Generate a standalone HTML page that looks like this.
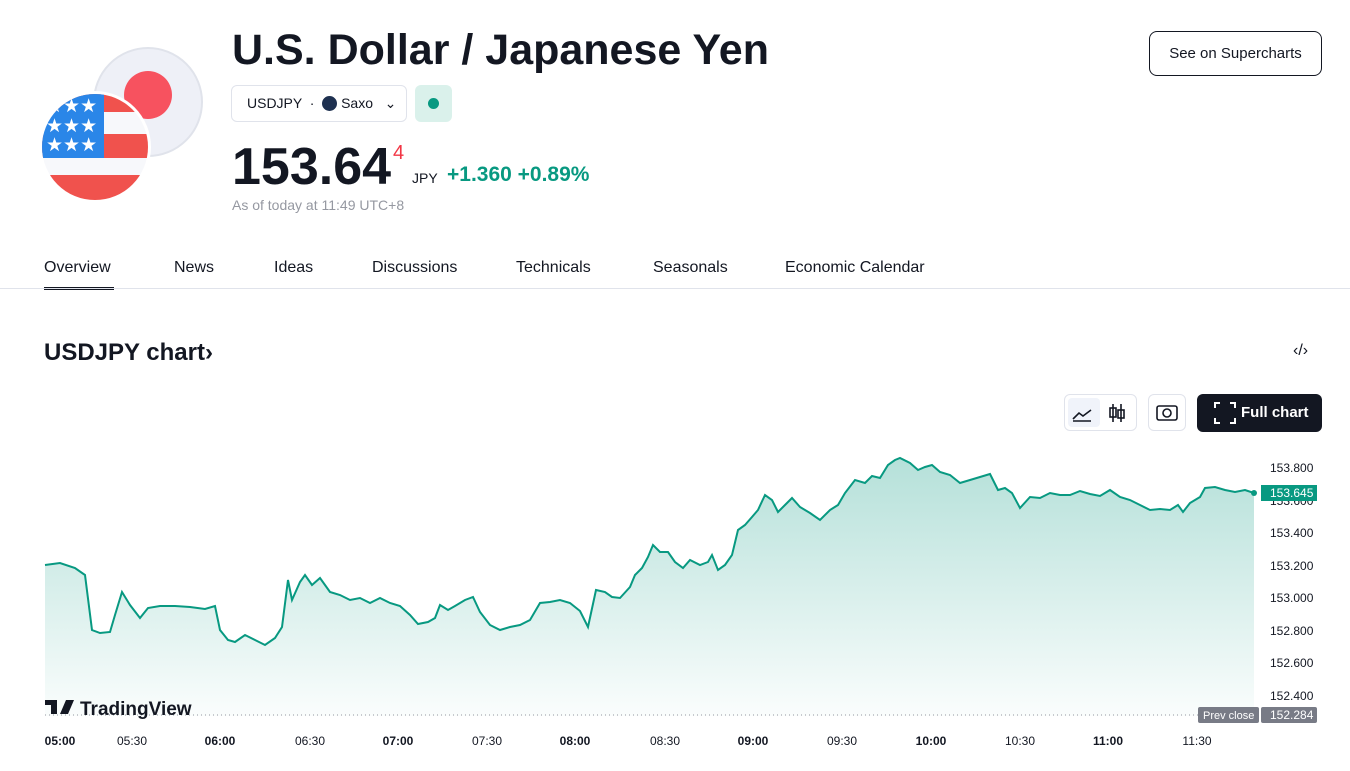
<!DOCTYPE html>
<html><head><meta charset="utf-8"><style>
body{margin:0;width:1350px;height:771px;background:#fff;font-family:"Liberation Sans",sans-serif;color:#131722;position:relative;overflow:hidden}
.a{position:absolute;white-space:nowrap}
</style></head><body>
<svg class="a" style="left:40px;top:40px" width="165" height="165">
<circle cx="108" cy="62" r="54" fill="#eef0f7" stroke="#e0e3eb" stroke-width="2"/>
<circle cx="108" cy="55" r="24" fill="#f7525f"/>
<clipPath id="c"><circle cx="55" cy="107" r="53"/></clipPath>
<circle cx="55" cy="107" r="56" fill="#fff"/>
<g clip-path="url(#c)"><rect x="0" y="50" width="120" height="110" fill="#f7f8fb"/>
<rect x="0" y="50" width="120" height="22" fill="#f0524d"/><rect x="0" y="94" width="120" height="24" fill="#f0524d"/><rect x="0" y="135" width="120" height="30" fill="#f0524d"/>
<rect x="0" y="50" width="64" height="68" fill="#2a86e8"/>
<text x="6" y="72" fill="#fff" font-size="19">★★★</text><text x="6" y="92" fill="#fff" font-size="19">★★★</text><text x="6" y="111" fill="#fff" font-size="19">★★★</text></g>
</svg>
<div class="a" style="left:232px;top:26px;font-size:43px;font-weight:bold">U.S. Dollar / Japanese Yen</div>
<div class="a" style="left:231px;top:85px;width:176px;height:37px;border:1px solid #e0e3eb;border-radius:6px;font-size:14px;line-height:35px;padding-left:15px;box-sizing:border-box">USDJPY &nbsp;· &nbsp;<span style="display:inline-block;width:15px;height:15px;border-radius:50%;background:#1e3050;vertical-align:-3px"></span> Saxo &nbsp; ⌄</div>
<div class="a" style="left:415px;top:85px;width:37px;height:37px;border-radius:6px;background:#daf1eb"><div style="margin:13px;width:11px;height:11px;border-radius:50%;background:#089981"></div></div>
<div class="a" style="left:232px;top:137px;font-size:52px;font-weight:bold">153.64</div>
<div class="a" style="left:393px;top:142px;font-size:20px;color:#f23645">4</div>
<div class="a" style="left:412px;top:170px;font-size:14px">JPY</div>
<div class="a" style="left:447px;top:163px;font-size:21px;color:#089981;font-weight:bold">+1.360 +0.89%</div>
<div class="a" style="left:232px;top:197px;font-size:14px;color:#9598a1">As of today at 11:49 UTC+8</div>
<div class="a" style="left:1149px;top:31px;width:173px;height:45px;border:1px solid #131722;border-radius:8px;box-sizing:border-box;font-size:15px;text-align:center;line-height:43px">See on Supercharts</div>
<div class="a" style="left:44px;top:259px;font-size:16px">Overview</div>
<div class="a" style="left:44px;top:287px;width:70px;height:3px;background:#131722"></div>
<div class="a" style="left:174px;top:259px;font-size:16px">News</div>
<div class="a" style="left:274px;top:259px;font-size:16px">Ideas</div>
<div class="a" style="left:372px;top:259px;font-size:16px">Discussions</div>
<div class="a" style="left:516px;top:259px;font-size:16px">Technicals</div>
<div class="a" style="left:653px;top:259px;font-size:16px">Seasonals</div>
<div class="a" style="left:785px;top:259px;font-size:16px">Economic Calendar</div>
<div class="a" style="left:0;top:288px;width:1350px;height:1px;background:#e0e3eb"></div>
<div class="a" style="left:44px;top:339px;font-size:24px;font-weight:bold">USDJPY chart›</div>
<div class="a" style="left:1293px;top:342px;font-size:16px">‹/›</div>
<div class="a" style="left:1064px;top:394px;width:73px;height:37px;border:1px solid #e0e3eb;border-radius:6px;box-sizing:border-box"><div style="margin:3px;width:32px;height:29px;background:#f0f3fa;border-radius:4px"></div></div>
<div class="a" style="left:1148px;top:394px;width:38px;height:37px;border:1px solid #e0e3eb;border-radius:6px;box-sizing:border-box"></div>
<div class="a" style="left:1197px;top:394px;width:125px;height:38px;background:#131722;border-radius:6px;color:#fff;font-size:15px;font-weight:bold;line-height:38px;padding-left:44px;box-sizing:border-box">Full chart</div>
<svg class="a" style="left:0;top:0" width="1350" height="771">
<defs><linearGradient id="g" x1="0" y1="0" x2="0" y2="1"><stop offset="0" stop-color="#089981" stop-opacity=".3"/><stop offset="1" stop-color="#089981" stop-opacity="0.02"/></linearGradient></defs>
<g fill="none" stroke="#131722" stroke-width="1.6"><path d="M1073 419l6-6 4 3 8-6M1073 421h18"/><path d="M1113 404v18M1121 404v18"/><rect x="1110" y="408" width="6" height="9"/><rect x="1118" y="410" width="6" height="8"/><rect x="1157" y="406" width="20" height="14" rx="2"/><circle cx="1167" cy="413" r="4"/></g>
<g fill="none" stroke="#fff" stroke-width="2"><path d="M1215 408v-5h5M1230 403h5v5M1235 418v5h-5M1220 423h-5v-5"/></g>
<polyline points="45,565 60,563 75,568 85,575 92,630 100,633 110,632 115,615 122,592 130,605 140,618 148,608 160,606 175,606 190,607 205,609 215,606 220,630 228,640 235,642 245,635 255,640 265,645 275,638 282,627 288,580 292,600 300,582 305,575 312,585 320,578 330,592 340,595 350,600 360,598 370,603 380,598 390,603 400,606 410,615 418,624 428,622 435,618 440,605 448,610 455,606 465,600 473,597 480,612 490,625 500,630 510,627 520,625 530,620 540,603 550,602 560,600 570,603 580,611 588,627 596,590 605,592 612,597 620,598 630,587 635,575 642,568 648,557 653,545 660,552 668,552 675,562 683,568 690,560 700,565 708,562 712,555 718,570 725,565 732,555 738,530 745,525 752,517 758,510 765,495 772,500 778,512 785,505 792,498 800,507 810,513 820,520 830,510 838,505 845,493 855,480 865,483 872,476 880,478 888,465 895,460 900,458 910,463 918,470 925,467 932,465 940,472 950,475 960,483 970,480 980,477 990,474 998,490 1005,488 1012,493 1020,508 1030,497 1040,498 1050,493 1060,495 1070,495 1080,491 1090,494 1100,496 1110,490 1120,497 1130,500 1140,505 1150,510 1160,509 1170,510 1178,505 1183,512 1190,503 1200,497 1205,488 1215,487 1225,490 1235,492 1245,490 1254,493" fill="none" stroke="#089981" stroke-width="2"/>
<polygon points="45,565 60,563 75,568 85,575 92,630 100,633 110,632 115,615 122,592 130,605 140,618 148,608 160,606 175,606 190,607 205,609 215,606 220,630 228,640 235,642 245,635 255,640 265,645 275,638 282,627 288,580 292,600 300,582 305,575 312,585 320,578 330,592 340,595 350,600 360,598 370,603 380,598 390,603 400,606 410,615 418,624 428,622 435,618 440,605 448,610 455,606 465,600 473,597 480,612 490,625 500,630 510,627 520,625 530,620 540,603 550,602 560,600 570,603 580,611 588,627 596,590 605,592 612,597 620,598 630,587 635,575 642,568 648,557 653,545 660,552 668,552 675,562 683,568 690,560 700,565 708,562 712,555 718,570 725,565 732,555 738,530 745,525 752,517 758,510 765,495 772,500 778,512 785,505 792,498 800,507 810,513 820,520 830,510 838,505 845,493 855,480 865,483 872,476 880,478 888,465 895,460 900,458 910,463 918,470 925,467 932,465 940,472 950,475 960,483 970,480 980,477 990,474 998,490 1005,488 1012,493 1020,508 1030,497 1040,498 1050,493 1060,495 1070,495 1080,491 1090,494 1100,496 1110,490 1120,497 1130,500 1140,505 1150,510 1160,509 1170,510 1178,505 1183,512 1190,503 1200,497 1205,488 1215,487 1225,490 1235,492 1245,490 1254,493 1254,716 45,716" fill="url(#g)"/>
<circle cx="1254" cy="493" r="3" fill="#089981"/>
<line x1="45" y1="715" x2="1198" y2="715" stroke="#9598a1" stroke-dasharray="1 3"/>
<g font-size="12" fill="#131722">
<text x="1270" y="472">153.800</text><text x="1270" y="505">153.600</text><text x="1270" y="537">153.400</text><text x="1270" y="570">153.200</text><text x="1270" y="602">153.000</text><text x="1270" y="635">152.800</text><text x="1270" y="667">152.600</text><text x="1270" y="700">152.400</text>
</g>
<rect x="1261" y="485" width="56" height="16" fill="#089981"/><text x="1270" y="497" font-size="12" fill="#fff">153.645</text>
<rect x="1198" y="707" width="61" height="16" rx="2" fill="#787b86"/><text x="1203" y="719" font-size="11" fill="#fff">Prev close</text>
<rect x="1261" y="707" width="56" height="16" rx="2" fill="#787b86"/><text x="1270" y="719" font-size="12" fill="#fff">152.284</text>
<g font-size="12" fill="#131722" text-anchor="middle">
<text x="60" y="745" font-weight="bold">05:00</text><text x="132" y="745">05:30</text><text x="220" y="745" font-weight="bold">06:00</text><text x="310" y="745">06:30</text><text x="398" y="745" font-weight="bold">07:00</text><text x="487" y="745">07:30</text><text x="575" y="745" font-weight="bold">08:00</text><text x="665" y="745">08:30</text><text x="753" y="745" font-weight="bold">09:00</text><text x="842" y="745">09:30</text><text x="931" y="745" font-weight="bold">10:00</text><text x="1020" y="745">10:30</text><text x="1108" y="745" font-weight="bold">11:00</text><text x="1197" y="745">11:30</text>
</g>
<path d="M45 700h12v14h-6v-9h-6zM60 714l6-14h8l-6 14z" fill="#131722"/>
<text x="80" y="715" font-size="19" font-weight="bold" fill="#131722">TradingView</text>
</svg>
</body></html>
